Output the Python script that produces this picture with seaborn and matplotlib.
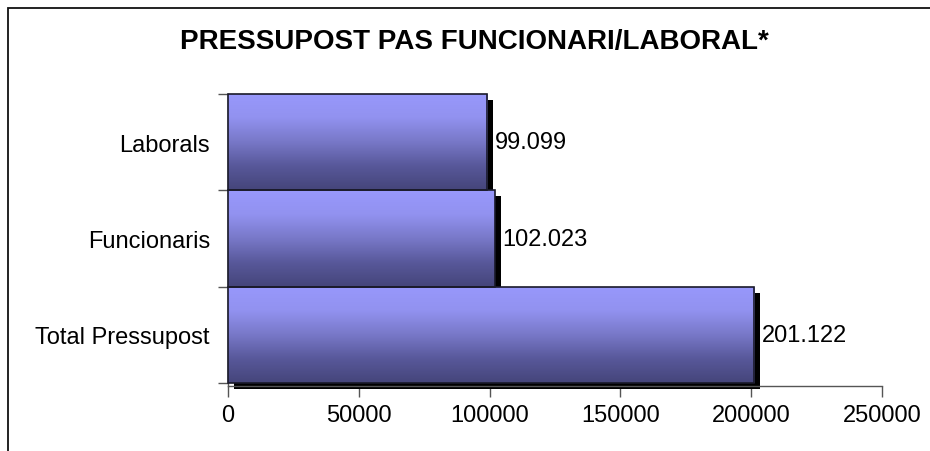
import numpy as np
import pandas as pd
import matplotlib
matplotlib.use("Agg")
import matplotlib.pyplot as plt
import seaborn as sns
from matplotlib.patches import Rectangle
from matplotlib.colors import LinearSegmentedColormap
import matplotlib.patheffects as pe

categories = ["Laborals", "Funcionaris", "Total Pressupost"]
values = [99099, 102023, 201122]
value_labels = ["99.099", "102.023", "201.122"]
x_ticks = [0, 50000, 100000, 150000, 200000, 250000]
title = "PRESSUPOST PAS FUNCIONARI/LABORAL*"

sns.set_style("white")
plt.rcParams["font.family"] = ["Liberation Sans", "DejaVu Sans"]
plt.rcParams["text.color"] = "black"
plt.rcParams["xtick.labelcolor"] = "black"
plt.rcParams["ytick.labelcolor"] = "black"

W, H = 930, 452
fig = plt.figure(figsize=(W / 100, H / 100), dpi=100)
ax = fig.add_axes([228 / W, (H - 387) / H, 654 / W, (387 - 95) / H])

df = pd.DataFrame({"cat": categories, "val": values})
sns.barplot(data=df, y="cat", x="val", order=categories, orient="h",
            width=1.0, color="#9999FF", ax=ax, edgecolor="none", linewidth=0)

ax.set_xlim(0, 250000)
ax.set_ylim(2.5 + 0.03, -0.5)

cmap = LinearSegmentedColormap.from_list(
    "grad",
    [(0.0, "#9898FC"), (0.25, "#9292F0"), (0.5, "#7878C8"),
     (0.75, "#58589A"), (1.0, "#45457A")])
grad = np.linspace(0, 1, 256).reshape(-1, 1)

for p in ax.patches:
    x0, y0 = p.get_x(), p.get_y()
    w, h = p.get_width(), p.get_height()
    p.set_path_effects([pe.SimplePatchShadow(offset=(4.4, -4.4),
                                             shadow_rgbFace="black", alpha=1.0),
                        pe.Normal()])
    p.set_clip_on(False)
    im = ax.imshow(grad, cmap=cmap, aspect="auto",
                   extent=[x0, x0 + w, y0 + h, y0], zorder=3,
                   interpolation="bilinear")
    im.set_clip_path(p)
    ax.add_patch(Rectangle((x0, y0), w, h, fill=False, edgecolor="#1a1a2a",
                           linewidth=1.2, zorder=4, clip_on=False))

ax.set_xlim(0, 250000)
ax.set_ylim(2.5 + 0.03, -0.5)

for i, (v, lab) in enumerate(zip(values, value_labels)):
    ax.annotate(lab, xy=(v, i), xytext=(5.5, 0), textcoords="offset points",
                ha="left", va="center", fontsize=17, color="black",
                annotation_clip=False)

ax.set_xticks(x_ticks)
ax.set_xticklabels([str(t) for t in x_ticks])
ax.set_yticks([-0.5, 0.5, 1.5, 2.5])
ax.set_yticklabels([])
ax.set_yticks([0, 1, 2], minor=True)
ax.set_yticklabels(categories, minor=True)
ax.tick_params(axis="y", which="major", direction="out", length=7, width=1,
               color="#555555", left=True)
ax.tick_params(axis="y", which="minor", length=0, pad=13, labelsize=17,
               labelcolor="black")
ax.tick_params(axis="x", direction="out", length=8, width=1, color="#555555",
               pad=5, labelsize=17, bottom=True, labelcolor="black")
ax.set_xlabel("")
ax.set_ylabel("")

for s in ["top", "right"]:
    ax.spines[s].set_visible(False)
for s in ["left", "bottom"]:
    ax.spines[s].set_color("#555555")
    ax.spines[s].set_linewidth(1)

fig.text(474 / W, 1 - 42 / H, title, ha="center", va="center",
         fontsize=20, fontweight="bold", color="black")

fig.add_artist(Rectangle((7.5 / W, -0.1), 1.2, 1 - 8.5 / H + 0.1,
                         transform=fig.transFigure, fill=False,
                         edgecolor="#111111", linewidth=1.3))

fig.savefig("out.png", dpi=100)
